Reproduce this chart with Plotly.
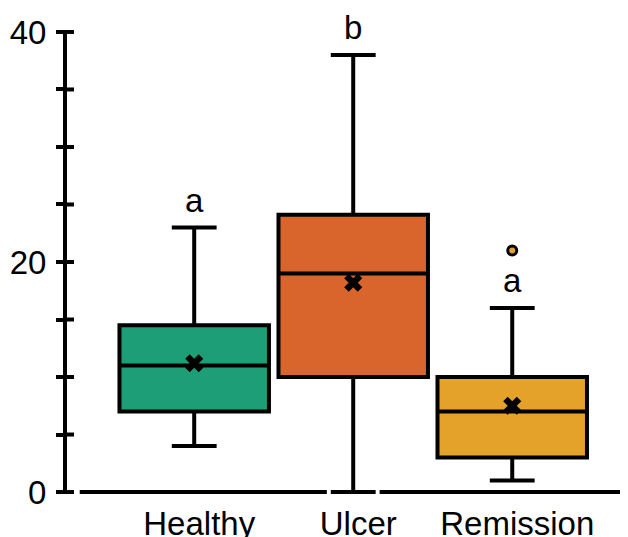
import plotly.graph_objects as go

categories = ["Healthy", "Ulcer", "Remission"]
q1 = [7.0, 10.0, 3.0]
median = [11.0, 19.0, 7.0]
q3 = [14.5, 24.1, 10.0]
lower = [4.0, 0.0, 1.0]
upper = [23.0, 38.0, 16.0]
means = [11.2, 18.2, 7.5]
outlier_cat = ["Remission"]
outlier_val = [21.0]
letters = ["a", "b", "a"]
colors = ["#1E9E77", "#D9652D", "#E5A22A"]
yticks = [0, 5, 10, 15, 20, 25, 30, 35, 40]
ylabels = ["0", "", "", "", "20", "", "", "", "40"]

BOXW = 0.94
WW = 0.3
FONT = "Liberation Sans, Arial, sans-serif"
YR = [-0.17, 40.17]
XR = [-0.80, 2.728]
PLOT_W = 561


def to_paper(v):
    return (v - YR[0]) / (YR[1] - YR[0])


fig = go.Figure()
for i, c in enumerate(categories):
    fig.add_trace(go.Box(
        x=[c], q1=[q1[i]], median=[median[i]], q3=[q3[i]],
        lowerfence=[lower[i]], upperfence=[upper[i]],
        fillcolor=colors[i], line=dict(color="black", width=4),
        width=BOXW, whiskerwidth=WW, boxpoints=False, showlegend=False,
        hoverinfo="skip"))

fig.add_trace(go.Scatter(
    x=categories, y=means, mode="markers",
    marker=dict(symbol="x", size=16, color="black", line=dict(width=0)),
    showlegend=False, cliponaxis=False))

fig.add_trace(go.Scatter(
    x=outlier_cat, y=outlier_val, mode="markers",
    marker=dict(symbol="circle", size=9, color=colors[2], line=dict(color="black", width=3)),
    showlegend=False, cliponaxis=False))

for i, c in enumerate(categories):
    fig.add_annotation(x=c, y=to_paper(upper[i] + 0.6), xref="x", yref="paper",
                       text=letters[i], showarrow=False,
                       font=dict(size=33, color="black", family=FONT), yanchor="bottom")

# x axis baseline with gaps around the Ulcer lower whisker cap
cap_half = WW * BOXW / 2
gap = 0.025
u = categories.index("Ulcer")
fig.add_shape(type="line", xref="x", yref="y", x0=-0.72, x1=u - cap_half - gap, y0=0, y1=0,
              line=dict(color="black", width=4), layer="below")
fig.add_shape(type="line", xref="x", yref="y", x0=u + cap_half + gap, x1=2.8, y0=0, y1=0,
              line=dict(color="black", width=4), layer="below")

# inside parts of the crossing y ticks
for t in yticks:
    fig.add_shape(type="line", xref="paper", yref="y", x0=0, x1=7 / PLOT_W, y0=t, y1=t,
                  line=dict(color="black", width=4))

fig.update_layout(
    width=620, height=529,
    margin=dict(l=59, r=0, t=22, b=43),
    plot_bgcolor="white", paper_bgcolor="white",
    font=dict(family=FONT, size=33, color="black"),
    boxmode="overlay",
    xaxis=dict(type="category", range=XR, showline=False, showgrid=False,
               zeroline=False, ticks="", ticklabelstandoff=7, ticklabelshift=5,
               automargin=False, tickfont=dict(size=33, color="black")),
    yaxis=dict(range=YR, tickvals=yticks, ticktext=ylabels, automargin=False,
               showline=True, linecolor="black", linewidth=4, showgrid=False, zeroline=False,
               ticks="outside", ticklen=7, tickwidth=4, tickcolor="black",
               ticklabelstandoff=3, tickfont=dict(size=33, color="black")),
)

fig.write_html("out.html")
